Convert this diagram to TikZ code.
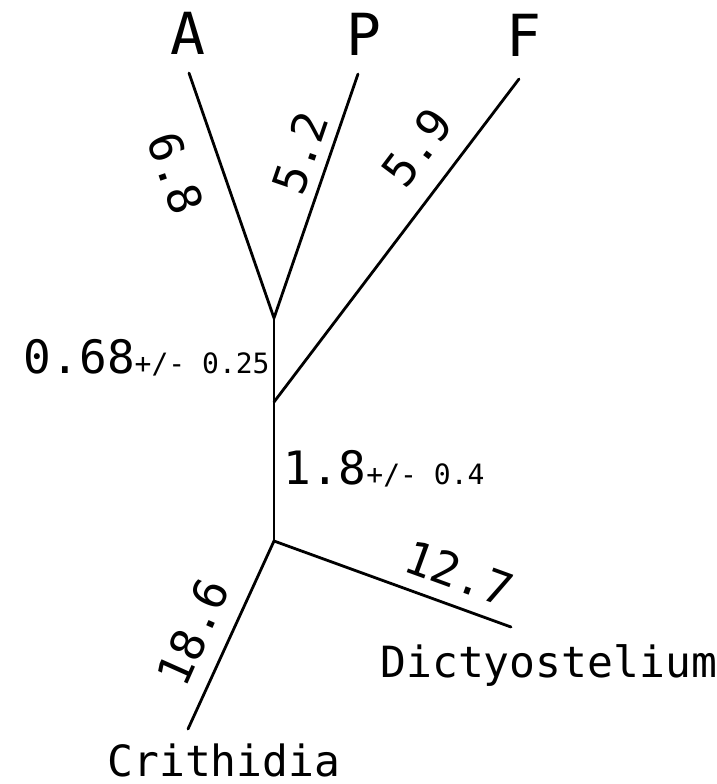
\documentclass[tikz,border=0pt]{standalone}
\usepackage{fontspec}
\setmonofont{DejaVu Sans Mono}
\begin{document}
\begin{tikzpicture}[
  x=0.5pt, y=-0.5pt,
  tipnode/.style={inner sep=0pt, font=\ttfamily\fontsize{29}{29}\selectfont},
  taxnode/.style={inner sep=0pt, font=\ttfamily\fontsize{21.5}{21.5}\selectfont},
  lennode/.style={inner sep=0pt, font=\ttfamily\fontsize{23}{23}\selectfont},
  line width=1.4pt, line cap=round
]
  \useasboundingbox (0,0) rectangle (717,784);
  % inner vertices
  \coordinate (n1) at (274,318);
  \coordinate (n2) at (274,402);
  \coordinate (n3) at (274,541);
  % branch ends
  \coordinate (eA) at (189,73);
  \coordinate (eP) at (358,74);
  \coordinate (eF) at (519,79);
  \coordinate (eD) at (511,627);
  \coordinate (eC) at (188,729);

  \node[tipnode] (A) at (188,33) {A};
  \node[tipnode] (P) at (364,34) {P};
  \node[tipnode] (F) at (524,35) {F};
  \node[taxnode, anchor=base west] (dicty) at (379,677) {Dictyostelium};
  \node[taxnode, anchor=base west] (crith) at (106,776) {Crithidia};

  \draw (eA) -- (n1) -- (eP);
  \draw (eF) -- (n2);
  \draw (n1) -- (n2) -- (n3);
  \draw (eC) -- (n3) -- (eD);

  % branch lengths
  \node[lennode, rotate=-71] (lA) at (176,173) {6.8};
  \node[lennode, rotate=71] (lP) at (300,153) {5.2};
  \node[lennode, rotate=53] (lF) at (417,147) {5.9};
  \node[lennode, rotate=-20] (lD) at (459,573) {12.7};
  \node[lennode, rotate=66] (lC) at (193,632) {18.6};
  \node[lennode, anchor=base east] (l1) at (271,373) {0.68{\fontsize{14}{14}\selectfont +/- 0.25}};
  \node[lennode, anchor=base west] (l2) at (282,484) {1.8{\fontsize{14}{14}\selectfont +/- 0.4}};
\end{tikzpicture}
\end{document}
